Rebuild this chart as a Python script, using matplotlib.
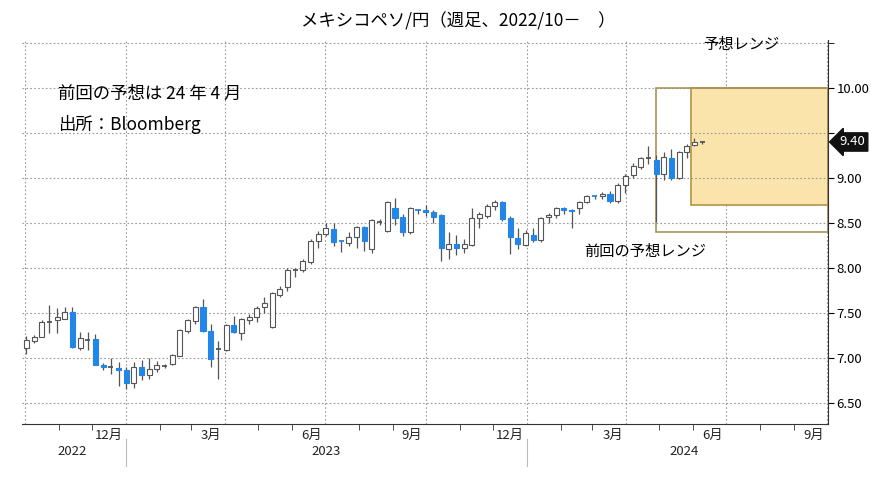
import pandas as pd
import matplotlib
matplotlib.use('Agg')
import matplotlib.pyplot as plt
import matplotlib.dates as mdates
import matplotlib.transforms as mtrans
from matplotlib.patches import Rectangle

plt.rcParams['font.family'] = ['Noto Sans CJK JP', 'DejaVu Sans']

# 週足 OHLC
opens = [7.11, 7.19, 7.24, 7.40, 7.42, 7.44, 7.51, 7.11, 7.20, 7.21, 6.93, 6.90, 6.89, 6.87, 6.72, 6.90, 6.81, 6.88,
         6.91, 6.94, 7.03, 7.30, 7.41, 7.57, 7.30, 7.10, 7.09, 7.37, 7.28, 7.42, 7.46, 7.57, 7.35, 7.70, 7.79,
         7.98, 7.98, 8.07, 8.30, 8.38, 8.43, 8.30, 8.28, 8.34, 8.46, 8.21, 8.51, 8.41, 8.67, 8.57, 8.40, 8.64,
         8.65, 8.62, 8.59, 8.21, 8.27, 8.22, 8.26, 8.56, 8.58, 8.69, 8.73, 8.56, 8.33, 8.26, 8.37, 8.31, 8.57, 8.59,
         8.67, 8.65, 8.67, 8.73, 8.80, 8.80, 8.82, 8.74, 8.92, 9.03, 9.12, 9.22, 9.20, 9.04, 9.22, 9.00, 9.29, 9.37, 9.40]
closes = [7.20, 7.24, 7.40, 7.41, 7.46, 7.51, 7.12, 7.22, 7.20, 6.93, 6.90, 6.90, 6.87, 6.72, 6.90, 6.81, 6.88, 6.92,
          6.91, 7.04, 7.31, 7.42, 7.57, 7.30, 6.99, 7.10, 7.37, 7.29, 7.44, 7.46, 7.56, 7.61, 7.72, 7.77, 7.98,
          7.98, 8.08, 8.30, 8.38, 8.44, 8.29, 8.29, 8.34, 8.46, 8.30, 8.53, 8.51, 8.73, 8.56, 8.40, 8.67, 8.63,
          8.62, 8.57, 8.22, 8.27, 8.22, 8.27, 8.56, 8.60, 8.69, 8.73, 8.54, 8.34, 8.27, 8.39, 8.31, 8.56, 8.59, 8.67,
          8.64, 8.63, 8.73, 8.80, 8.79, 8.82, 8.74, 8.92, 9.02, 9.13, 9.22, 9.22, 9.04, 9.23, 9.00, 9.29, 9.36, 9.40, 9.40]
highs = [7.25, 7.26, 7.42, 7.59, 7.56, 7.57, 7.57, 7.29, 7.29, 7.27, 6.95, 7.00, 6.96, 6.90, 6.96, 6.98, 7.00, 6.97,
         6.94, 7.05, 7.32, 7.44, 7.58, 7.66, 7.38, 7.19, 7.38, 7.47, 7.45, 7.49, 7.58, 7.68, 7.73, 7.80, 8.00,
         8.00, 8.10, 8.32, 8.41, 8.50, 8.50, 8.31, 8.40, 8.47, 8.47, 8.54, 8.54, 8.74, 8.78, 8.60, 8.68, 8.66,
         8.70, 8.64, 8.60, 8.40, 8.37, 8.32, 8.67, 8.62, 8.71, 8.76, 8.74, 8.58, 8.45, 8.42, 8.45, 8.57, 8.61, 8.68,
         8.68, 8.66, 8.75, 8.81, 8.81, 8.84, 8.86, 8.94, 9.04, 9.17, 9.23, 9.35, 9.26, 9.29, 9.32, 9.30, 9.38, 9.44, 9.41]
lows = [7.05, 7.17, 7.23, 7.28, 7.28, 7.43, 7.11, 7.09, 7.09, 6.92, 6.87, 6.83, 6.69, 6.66, 6.67, 6.76, 6.77, 6.85,
        6.89, 6.92, 7.02, 7.28, 7.38, 7.29, 6.90, 6.77, 7.08, 7.28, 7.20, 7.38, 7.40, 7.50, 7.34, 7.68, 7.75,
        7.90, 7.96, 8.05, 8.22, 8.36, 8.25, 8.18, 8.24, 8.22, 8.19, 8.17, 8.48, 8.40, 8.48, 8.36, 8.38, 8.60,
        8.58, 8.50, 8.08, 8.10, 8.15, 8.17, 8.25, 8.45, 8.56, 8.64, 8.52, 8.16, 8.21, 8.25, 8.29, 8.29, 8.50, 8.56,
        8.60, 8.45, 8.60, 8.72, 8.77, 8.77, 8.72, 8.72, 8.83, 9.00, 9.10, 9.16, 8.51, 8.98, 8.98, 8.99, 9.22, 9.36, 9.38]
dates = pd.date_range('2022-10-02', periods=len(opens), freq='7D')

last_price = 9.40
prev_range = (8.40, 10.00)   # 前回の予想レンジ
new_range = (8.70, 10.00)    # 予想レンジ
prev_start, new_start = pd.Timestamp('2024-04-28'), pd.Timestamp('2024-05-30')
y_ticks = [6.5, 7.0, 7.5, 8.0, 8.5, 9.0, 9.5, 10.0]

blue = '#2386e6'
edge = '#555555'

fig = plt.figure(figsize=(8.9, 4.84), dpi=100)
ax = fig.add_axes([0.0247, 0.124, 0.906, 0.793])
x0, x1 = pd.Timestamp('2022-09-28'), pd.Timestamp('2024-10-02')
ax.set_xlim(x0, x1)
ax.set_ylim(6.27, 10.53)

# 予想レンジ
ax.add_patch(Rectangle((mdates.date2num(prev_start), prev_range[0]),
                       mdates.date2num(x1) - mdates.date2num(prev_start), prev_range[1] - prev_range[0],
                       fill=False, edgecolor='#a89457', lw=1.2, zorder=2))
ax.add_patch(Rectangle((mdates.date2num(new_start), new_range[0]),
                       mdates.date2num(x1) - mdates.date2num(new_start), new_range[1] - new_range[0],
                       facecolor='#fbe4ac', edgecolor='#b09448', lw=1.2, zorder=1))

# ローソク足
w = 4.6
for d, o, c, h, l in zip(dates, opens, closes, highs, lows):
    xn = mdates.date2num(d)
    ax.vlines(xn, l, h, color=edge, lw=0.9, zorder=3)
    lo, hi = min(o, c), max(o, c)
    if abs(c - o) < 0.015:
        ax.hlines(o, xn - w / 2, xn + w / 2, color=edge if c >= o else blue, lw=1.3, zorder=4)
    elif c > o:
        ax.add_patch(Rectangle((xn - w / 2, lo), w, hi - lo, facecolor='white', edgecolor=edge, lw=0.8, zorder=4))
    else:
        ax.add_patch(Rectangle((xn - w / 2, lo), w, hi - lo, facecolor=blue, edgecolor=blue, lw=0.8, zorder=4))

# 軸
for s in ['top', 'left']:
    ax.spines[s].set_visible(False)
ax.spines['right'].set_color('#333333')
ax.spines['bottom'].set_color('#333333')
ax.yaxis.tick_right()
ax.set_yticks(y_ticks)
ax.set_yticklabels(['' if v == last_price // 0.5 * 0.5 + 0.5 and False else f'{v:.2f}' for v in y_ticks], fontsize=9.5)
ax.set_yticks([10.5], minor=True)
ax.grid(True, which='both', axis='y', linestyle=(0, (1.5, 2)), color='#999999', lw=0.8)
ax.tick_params(axis='y', which='both', length=4, direction='out', pad=2)
# 9.50 は現在値ラベルの裏に隠れる
ax.get_yticklabels()[6].set_visible(False)

qtrs = pd.date_range('2022-10-01', '2024-10-01', freq='QS')
ax.set_xticks(qtrs)
ax.set_xticklabels([])
ax.xaxis.set_minor_locator(mdates.MonthLocator())
ax.tick_params(axis='x', which='major', length=0)
ax.tick_params(axis='x', which='minor', length=4, color='#333333')
for q in qtrs:
    ax.axvline(q, color='#999999', linestyle=(0, (1.5, 2)), lw=0.8, zorder=0)

tr = mtrans.blended_transform_factory(ax.transData, ax.transAxes)
month_labels = ['12月', '3月', '6月', '9月', '12月', '3月', '6月', '9月']
for q, lab in zip(qtrs[1:], month_labels):
    ax.text(q - pd.Timedelta(days=3), -0.012, lab, transform=tr, ha='right', va='top', fontsize=9.5, color='#222222')
years = ['2022', '2023', '2024']
year_mid = [pd.Timestamp('2022-11-13'), pd.Timestamp('2023-07-02'), pd.Timestamp('2024-05-24')]
for ym, lab in zip(year_mid, years):
    ax.text(ym, -0.055, lab, transform=tr, ha='center', va='top', fontsize=9.5, color='#222222')
for yb in [pd.Timestamp('2023-01-01'), pd.Timestamp('2024-01-01')]:
    ax.plot([yb, yb], [-0.04, -0.11], transform=tr, color='#bbbbbb', lw=0.8, clip_on=False)

# 現在値ラベル
ax.annotate(f'{last_price:.2f}', xy=(1.0, last_price), xycoords=('axes fraction', 'data'),
            xytext=(8, 0), textcoords='offset points', ha='left', va='center', fontsize=9.5, color='white',
            bbox=dict(boxstyle='larrow,pad=0.2', facecolor='#111111', edgecolor='#111111'))

# テキスト
fig.text(0.515, 0.955, 'メキシコペソ/円（週足、2022/10－　）', ha='center', va='center', fontsize=12.5)
ax.text(0.045, 0.86, '前回の予想は 24 年 4 月', transform=ax.transAxes, fontsize=12.5, va='center')
ax.text(0.045, 0.78, '出所：Bloomberg', transform=ax.transAxes, fontsize=12.5, va='center')
ax.text(pd.Timestamp('2024-07-15'), 10.48, '予想レンジ', fontsize=11, ha='center', va='center')
ax.text(pd.Timestamp('2024-04-18'), 8.18, '前回の予想レンジ', fontsize=11, ha='center', va='center')

fig.savefig('out.png', dpi=100)
